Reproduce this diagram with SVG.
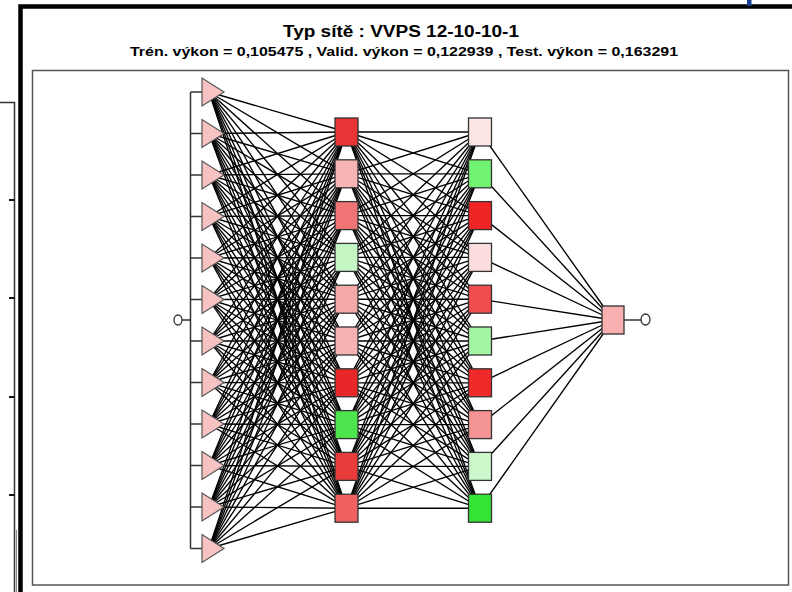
<svg xmlns="http://www.w3.org/2000/svg" width="792" height="592" viewBox="0 0 792 592">
<style>
.t{font-family:"Liberation Sans",Arial,sans-serif;font-weight:bold;fill:#000;text-anchor:middle}
.c line{stroke:#000;stroke-width:1.35}
.bus{stroke:#333;stroke-width:1.5;fill:none}
.tri{fill:#f7c2c2;stroke:#555;stroke-width:1.2}
.nd{stroke:#333;stroke-width:1.3}
.io{fill:#fff;stroke:#333;stroke-width:1.3}
</style>
<rect width="792" height="592" fill="#fff"/>
<g id="leftchart" fill="none" stroke="#333">
<path d="M0 102.5H14.5V592" stroke-width="1.5"/>
<path d="M16.5 530V592" stroke-width="1" stroke="#888"/>
<path d="M9 200H14.5M9 298H14.5M9 397H14.5M9 495H14.5" stroke-width="2.2" stroke="#111"/>
</g>
<path d="M20.5 592V6.5H792" fill="none" stroke="#000" stroke-width="4.5"/>
<rect x="747" y="0" width="4.5" height="6" fill="#1a3d8f"/>
<rect x="32.5" y="70.5" width="756" height="514.5" fill="#fff" stroke="#555" stroke-width="1.5"/>
<text class="t" x="401" y="37" font-size="16" textLength="236" lengthAdjust="spacingAndGlyphs">Typ sítě : VVPS 12-10-10-1</text>
<text class="t" x="404" y="56" font-size="12" textLength="548" lengthAdjust="spacingAndGlyphs">Trén. výkon = 0,105475 ,  Valid. výkon = 0,122939 ,  Test. výkon = 0,163291</text>
<g id="connectors" class="c">
<g id="in-h1">
<line x1="209" y1="92" x2="346.5" y2="132"/><line x1="209" y1="92" x2="346.5" y2="173.8"/><line x1="209" y1="92" x2="346.5" y2="215.6"/><line x1="209" y1="92" x2="346.5" y2="257.4"/><line x1="209" y1="92" x2="346.5" y2="299.2"/><line x1="209" y1="92" x2="346.5" y2="341"/><line x1="209" y1="92" x2="346.5" y2="382.8"/><line x1="209" y1="92" x2="346.5" y2="424.6"/><line x1="209" y1="92" x2="346.5" y2="466.4"/><line x1="209" y1="92" x2="346.5" y2="508.2"/>
<line x1="209" y1="133.5" x2="346.5" y2="132"/><line x1="209" y1="133.5" x2="346.5" y2="173.8"/><line x1="209" y1="133.5" x2="346.5" y2="215.6"/><line x1="209" y1="133.5" x2="346.5" y2="257.4"/><line x1="209" y1="133.5" x2="346.5" y2="299.2"/><line x1="209" y1="133.5" x2="346.5" y2="341"/><line x1="209" y1="133.5" x2="346.5" y2="382.8"/><line x1="209" y1="133.5" x2="346.5" y2="424.6"/><line x1="209" y1="133.5" x2="346.5" y2="466.4"/><line x1="209" y1="133.5" x2="346.5" y2="508.2"/>
<line x1="209" y1="175" x2="346.5" y2="132"/><line x1="209" y1="175" x2="346.5" y2="173.8"/><line x1="209" y1="175" x2="346.5" y2="215.6"/><line x1="209" y1="175" x2="346.5" y2="257.4"/><line x1="209" y1="175" x2="346.5" y2="299.2"/><line x1="209" y1="175" x2="346.5" y2="341"/><line x1="209" y1="175" x2="346.5" y2="382.8"/><line x1="209" y1="175" x2="346.5" y2="424.6"/><line x1="209" y1="175" x2="346.5" y2="466.4"/><line x1="209" y1="175" x2="346.5" y2="508.2"/>
<line x1="209" y1="216.5" x2="346.5" y2="132"/><line x1="209" y1="216.5" x2="346.5" y2="173.8"/><line x1="209" y1="216.5" x2="346.5" y2="215.6"/><line x1="209" y1="216.5" x2="346.5" y2="257.4"/><line x1="209" y1="216.5" x2="346.5" y2="299.2"/><line x1="209" y1="216.5" x2="346.5" y2="341"/><line x1="209" y1="216.5" x2="346.5" y2="382.8"/><line x1="209" y1="216.5" x2="346.5" y2="424.6"/><line x1="209" y1="216.5" x2="346.5" y2="466.4"/><line x1="209" y1="216.5" x2="346.5" y2="508.2"/>
<line x1="209" y1="258" x2="346.5" y2="132"/><line x1="209" y1="258" x2="346.5" y2="173.8"/><line x1="209" y1="258" x2="346.5" y2="215.6"/><line x1="209" y1="258" x2="346.5" y2="257.4"/><line x1="209" y1="258" x2="346.5" y2="299.2"/><line x1="209" y1="258" x2="346.5" y2="341"/><line x1="209" y1="258" x2="346.5" y2="382.8"/><line x1="209" y1="258" x2="346.5" y2="424.6"/><line x1="209" y1="258" x2="346.5" y2="466.4"/><line x1="209" y1="258" x2="346.5" y2="508.2"/>
<line x1="209" y1="299.5" x2="346.5" y2="132"/><line x1="209" y1="299.5" x2="346.5" y2="173.8"/><line x1="209" y1="299.5" x2="346.5" y2="215.6"/><line x1="209" y1="299.5" x2="346.5" y2="257.4"/><line x1="209" y1="299.5" x2="346.5" y2="299.2"/><line x1="209" y1="299.5" x2="346.5" y2="341"/><line x1="209" y1="299.5" x2="346.5" y2="382.8"/><line x1="209" y1="299.5" x2="346.5" y2="424.6"/><line x1="209" y1="299.5" x2="346.5" y2="466.4"/><line x1="209" y1="299.5" x2="346.5" y2="508.2"/>
<line x1="209" y1="341" x2="346.5" y2="132"/><line x1="209" y1="341" x2="346.5" y2="173.8"/><line x1="209" y1="341" x2="346.5" y2="215.6"/><line x1="209" y1="341" x2="346.5" y2="257.4"/><line x1="209" y1="341" x2="346.5" y2="299.2"/><line x1="209" y1="341" x2="346.5" y2="341"/><line x1="209" y1="341" x2="346.5" y2="382.8"/><line x1="209" y1="341" x2="346.5" y2="424.6"/><line x1="209" y1="341" x2="346.5" y2="466.4"/><line x1="209" y1="341" x2="346.5" y2="508.2"/>
<line x1="209" y1="382.5" x2="346.5" y2="132"/><line x1="209" y1="382.5" x2="346.5" y2="173.8"/><line x1="209" y1="382.5" x2="346.5" y2="215.6"/><line x1="209" y1="382.5" x2="346.5" y2="257.4"/><line x1="209" y1="382.5" x2="346.5" y2="299.2"/><line x1="209" y1="382.5" x2="346.5" y2="341"/><line x1="209" y1="382.5" x2="346.5" y2="382.8"/><line x1="209" y1="382.5" x2="346.5" y2="424.6"/><line x1="209" y1="382.5" x2="346.5" y2="466.4"/><line x1="209" y1="382.5" x2="346.5" y2="508.2"/>
<line x1="209" y1="424" x2="346.5" y2="132"/><line x1="209" y1="424" x2="346.5" y2="173.8"/><line x1="209" y1="424" x2="346.5" y2="215.6"/><line x1="209" y1="424" x2="346.5" y2="257.4"/><line x1="209" y1="424" x2="346.5" y2="299.2"/><line x1="209" y1="424" x2="346.5" y2="341"/><line x1="209" y1="424" x2="346.5" y2="382.8"/><line x1="209" y1="424" x2="346.5" y2="424.6"/><line x1="209" y1="424" x2="346.5" y2="466.4"/><line x1="209" y1="424" x2="346.5" y2="508.2"/>
<line x1="209" y1="465.5" x2="346.5" y2="132"/><line x1="209" y1="465.5" x2="346.5" y2="173.8"/><line x1="209" y1="465.5" x2="346.5" y2="215.6"/><line x1="209" y1="465.5" x2="346.5" y2="257.4"/><line x1="209" y1="465.5" x2="346.5" y2="299.2"/><line x1="209" y1="465.5" x2="346.5" y2="341"/><line x1="209" y1="465.5" x2="346.5" y2="382.8"/><line x1="209" y1="465.5" x2="346.5" y2="424.6"/><line x1="209" y1="465.5" x2="346.5" y2="466.4"/><line x1="209" y1="465.5" x2="346.5" y2="508.2"/>
<line x1="209" y1="507" x2="346.5" y2="132"/><line x1="209" y1="507" x2="346.5" y2="173.8"/><line x1="209" y1="507" x2="346.5" y2="215.6"/><line x1="209" y1="507" x2="346.5" y2="257.4"/><line x1="209" y1="507" x2="346.5" y2="299.2"/><line x1="209" y1="507" x2="346.5" y2="341"/><line x1="209" y1="507" x2="346.5" y2="382.8"/><line x1="209" y1="507" x2="346.5" y2="424.6"/><line x1="209" y1="507" x2="346.5" y2="466.4"/><line x1="209" y1="507" x2="346.5" y2="508.2"/>
<line x1="209" y1="548.5" x2="346.5" y2="132"/><line x1="209" y1="548.5" x2="346.5" y2="173.8"/><line x1="209" y1="548.5" x2="346.5" y2="215.6"/><line x1="209" y1="548.5" x2="346.5" y2="257.4"/><line x1="209" y1="548.5" x2="346.5" y2="299.2"/><line x1="209" y1="548.5" x2="346.5" y2="341"/><line x1="209" y1="548.5" x2="346.5" y2="382.8"/><line x1="209" y1="548.5" x2="346.5" y2="424.6"/><line x1="209" y1="548.5" x2="346.5" y2="466.4"/><line x1="209" y1="548.5" x2="346.5" y2="508.2"/>
</g>
<g id="h1-h2">
<line x1="346.5" y1="132" x2="480" y2="132"/><line x1="346.5" y1="132" x2="480" y2="173.8"/><line x1="346.5" y1="132" x2="480" y2="215.6"/><line x1="346.5" y1="132" x2="480" y2="257.4"/><line x1="346.5" y1="132" x2="480" y2="299.2"/><line x1="346.5" y1="132" x2="480" y2="341"/><line x1="346.5" y1="132" x2="480" y2="382.8"/><line x1="346.5" y1="132" x2="480" y2="424.6"/><line x1="346.5" y1="132" x2="480" y2="466.4"/><line x1="346.5" y1="132" x2="480" y2="508.2"/>
<line x1="346.5" y1="173.8" x2="480" y2="132"/><line x1="346.5" y1="173.8" x2="480" y2="173.8"/><line x1="346.5" y1="173.8" x2="480" y2="215.6"/><line x1="346.5" y1="173.8" x2="480" y2="257.4"/><line x1="346.5" y1="173.8" x2="480" y2="299.2"/><line x1="346.5" y1="173.8" x2="480" y2="341"/><line x1="346.5" y1="173.8" x2="480" y2="382.8"/><line x1="346.5" y1="173.8" x2="480" y2="424.6"/><line x1="346.5" y1="173.8" x2="480" y2="466.4"/><line x1="346.5" y1="173.8" x2="480" y2="508.2"/>
<line x1="346.5" y1="215.6" x2="480" y2="132"/><line x1="346.5" y1="215.6" x2="480" y2="173.8"/><line x1="346.5" y1="215.6" x2="480" y2="215.6"/><line x1="346.5" y1="215.6" x2="480" y2="257.4"/><line x1="346.5" y1="215.6" x2="480" y2="299.2"/><line x1="346.5" y1="215.6" x2="480" y2="341"/><line x1="346.5" y1="215.6" x2="480" y2="382.8"/><line x1="346.5" y1="215.6" x2="480" y2="424.6"/><line x1="346.5" y1="215.6" x2="480" y2="466.4"/><line x1="346.5" y1="215.6" x2="480" y2="508.2"/>
<line x1="346.5" y1="257.4" x2="480" y2="132"/><line x1="346.5" y1="257.4" x2="480" y2="173.8"/><line x1="346.5" y1="257.4" x2="480" y2="215.6"/><line x1="346.5" y1="257.4" x2="480" y2="257.4"/><line x1="346.5" y1="257.4" x2="480" y2="299.2"/><line x1="346.5" y1="257.4" x2="480" y2="341"/><line x1="346.5" y1="257.4" x2="480" y2="382.8"/><line x1="346.5" y1="257.4" x2="480" y2="424.6"/><line x1="346.5" y1="257.4" x2="480" y2="466.4"/><line x1="346.5" y1="257.4" x2="480" y2="508.2"/>
<line x1="346.5" y1="299.2" x2="480" y2="132"/><line x1="346.5" y1="299.2" x2="480" y2="173.8"/><line x1="346.5" y1="299.2" x2="480" y2="215.6"/><line x1="346.5" y1="299.2" x2="480" y2="257.4"/><line x1="346.5" y1="299.2" x2="480" y2="299.2"/><line x1="346.5" y1="299.2" x2="480" y2="341"/><line x1="346.5" y1="299.2" x2="480" y2="382.8"/><line x1="346.5" y1="299.2" x2="480" y2="424.6"/><line x1="346.5" y1="299.2" x2="480" y2="466.4"/><line x1="346.5" y1="299.2" x2="480" y2="508.2"/>
<line x1="346.5" y1="341" x2="480" y2="132"/><line x1="346.5" y1="341" x2="480" y2="173.8"/><line x1="346.5" y1="341" x2="480" y2="215.6"/><line x1="346.5" y1="341" x2="480" y2="257.4"/><line x1="346.5" y1="341" x2="480" y2="299.2"/><line x1="346.5" y1="341" x2="480" y2="341"/><line x1="346.5" y1="341" x2="480" y2="382.8"/><line x1="346.5" y1="341" x2="480" y2="424.6"/><line x1="346.5" y1="341" x2="480" y2="466.4"/><line x1="346.5" y1="341" x2="480" y2="508.2"/>
<line x1="346.5" y1="382.8" x2="480" y2="132"/><line x1="346.5" y1="382.8" x2="480" y2="173.8"/><line x1="346.5" y1="382.8" x2="480" y2="215.6"/><line x1="346.5" y1="382.8" x2="480" y2="257.4"/><line x1="346.5" y1="382.8" x2="480" y2="299.2"/><line x1="346.5" y1="382.8" x2="480" y2="341"/><line x1="346.5" y1="382.8" x2="480" y2="382.8"/><line x1="346.5" y1="382.8" x2="480" y2="424.6"/><line x1="346.5" y1="382.8" x2="480" y2="466.4"/><line x1="346.5" y1="382.8" x2="480" y2="508.2"/>
<line x1="346.5" y1="424.6" x2="480" y2="132"/><line x1="346.5" y1="424.6" x2="480" y2="173.8"/><line x1="346.5" y1="424.6" x2="480" y2="215.6"/><line x1="346.5" y1="424.6" x2="480" y2="257.4"/><line x1="346.5" y1="424.6" x2="480" y2="299.2"/><line x1="346.5" y1="424.6" x2="480" y2="341"/><line x1="346.5" y1="424.6" x2="480" y2="382.8"/><line x1="346.5" y1="424.6" x2="480" y2="424.6"/><line x1="346.5" y1="424.6" x2="480" y2="466.4"/><line x1="346.5" y1="424.6" x2="480" y2="508.2"/>
<line x1="346.5" y1="466.4" x2="480" y2="132"/><line x1="346.5" y1="466.4" x2="480" y2="173.8"/><line x1="346.5" y1="466.4" x2="480" y2="215.6"/><line x1="346.5" y1="466.4" x2="480" y2="257.4"/><line x1="346.5" y1="466.4" x2="480" y2="299.2"/><line x1="346.5" y1="466.4" x2="480" y2="341"/><line x1="346.5" y1="466.4" x2="480" y2="382.8"/><line x1="346.5" y1="466.4" x2="480" y2="424.6"/><line x1="346.5" y1="466.4" x2="480" y2="466.4"/><line x1="346.5" y1="466.4" x2="480" y2="508.2"/>
<line x1="346.5" y1="508.2" x2="480" y2="132"/><line x1="346.5" y1="508.2" x2="480" y2="173.8"/><line x1="346.5" y1="508.2" x2="480" y2="215.6"/><line x1="346.5" y1="508.2" x2="480" y2="257.4"/><line x1="346.5" y1="508.2" x2="480" y2="299.2"/><line x1="346.5" y1="508.2" x2="480" y2="341"/><line x1="346.5" y1="508.2" x2="480" y2="382.8"/><line x1="346.5" y1="508.2" x2="480" y2="424.6"/><line x1="346.5" y1="508.2" x2="480" y2="466.4"/><line x1="346.5" y1="508.2" x2="480" y2="508.2"/>
</g>
<g id="h2-out">
<line x1="480" y1="132" x2="613" y2="320"/><line x1="480" y1="173.8" x2="613" y2="320"/><line x1="480" y1="215.6" x2="613" y2="320"/><line x1="480" y1="257.4" x2="613" y2="320"/><line x1="480" y1="299.2" x2="613" y2="320"/><line x1="480" y1="341" x2="613" y2="320"/><line x1="480" y1="382.8" x2="613" y2="320"/><line x1="480" y1="424.6" x2="613" y2="320"/><line x1="480" y1="466.4" x2="613" y2="320"/><line x1="480" y1="508.2" x2="613" y2="320"/>
</g>
<g id="bus">
<path class="bus" d="M182 320H190.5M190.5 92V548.5M190.5 92H203M190.5 133.5H203M190.5 175H203M190.5 216.5H203M190.5 258H203M190.5 299.5H203M190.5 341H203M190.5 382.5H203M190.5 424H203M190.5 465.5H203M190.5 507H203M190.5 548.5H203"/>
<path class="bus" d="M624 320H641"/>
</g>
</g>
<g id="input-circle"><ellipse class="io" cx="178" cy="320" rx="4" ry="5"/></g>
<g id="in1"><polygon class="tri" points="202,78 202,106 224,92"/></g>
<g id="in2"><polygon class="tri" points="202,119.5 202,147.5 224,133.5"/></g>
<g id="in3"><polygon class="tri" points="202,161 202,189 224,175"/></g>
<g id="in4"><polygon class="tri" points="202,202.5 202,230.5 224,216.5"/></g>
<g id="in5"><polygon class="tri" points="202,244 202,272 224,258"/></g>
<g id="in6"><polygon class="tri" points="202,285.5 202,313.5 224,299.5"/></g>
<g id="in7"><polygon class="tri" points="202,327 202,355 224,341"/></g>
<g id="in8"><polygon class="tri" points="202,368.5 202,396.5 224,382.5"/></g>
<g id="in9"><polygon class="tri" points="202,410 202,438 224,424"/></g>
<g id="in10"><polygon class="tri" points="202,451.5 202,479.5 224,465.5"/></g>
<g id="in11"><polygon class="tri" points="202,493 202,521 224,507"/></g>
<g id="in12"><polygon class="tri" points="202,534.5 202,562.5 224,548.5"/></g>
<g id="h1-1"><rect class="nd" x="335" y="118" width="23" height="28" fill="#e83434"/></g>
<g id="h1-2"><rect class="nd" x="335" y="159.8" width="23" height="28" fill="#f6b4b4"/></g>
<g id="h1-3"><rect class="nd" x="335" y="201.6" width="23" height="28" fill="#f07474"/></g>
<g id="h1-4"><rect class="nd" x="335" y="243.4" width="23" height="28" fill="#c4f6c4"/></g>
<g id="h1-5"><rect class="nd" x="335" y="285.2" width="23" height="28" fill="#f4a8a8"/></g>
<g id="h1-6"><rect class="nd" x="335" y="327" width="23" height="28" fill="#f6b2b2"/></g>
<g id="h1-7"><rect class="nd" x="335" y="368.8" width="23" height="28" fill="#e82828"/></g>
<g id="h1-8"><rect class="nd" x="335" y="410.6" width="23" height="28" fill="#4ee44e"/></g>
<g id="h1-9"><rect class="nd" x="335" y="452.4" width="23" height="28" fill="#e83c3c"/></g>
<g id="h1-10"><rect class="nd" x="335" y="494.2" width="23" height="28" fill="#f06060"/></g>
<g id="h2-1"><rect class="nd" x="468.5" y="118" width="23" height="28" fill="#fce6e6"/></g>
<g id="h2-2"><rect class="nd" x="468.5" y="159.8" width="23" height="28" fill="#72f472"/></g>
<g id="h2-3"><rect class="nd" x="468.5" y="201.6" width="23" height="28" fill="#f02424"/></g>
<g id="h2-4"><rect class="nd" x="468.5" y="243.4" width="23" height="28" fill="#fcdede"/></g>
<g id="h2-5"><rect class="nd" x="468.5" y="285.2" width="23" height="28" fill="#f04e4e"/></g>
<g id="h2-6"><rect class="nd" x="468.5" y="327" width="23" height="28" fill="#a4f4a4"/></g>
<g id="h2-7"><rect class="nd" x="468.5" y="368.8" width="23" height="28" fill="#ee2a2a"/></g>
<g id="h2-8"><rect class="nd" x="468.5" y="410.6" width="23" height="28" fill="#f49494"/></g>
<g id="h2-9"><rect class="nd" x="468.5" y="452.4" width="23" height="28" fill="#ccf8cc"/></g>
<g id="h2-10"><rect class="nd" x="468.5" y="494.2" width="23" height="28" fill="#36e436"/></g>
<g id="out"><rect class="nd" x="602" y="306" width="22" height="28" fill="#f8b0b0"/></g>
<g id="output-circle"><ellipse class="io" cx="645.5" cy="319.5" rx="4.5" ry="5.5"/></g>
</svg>
